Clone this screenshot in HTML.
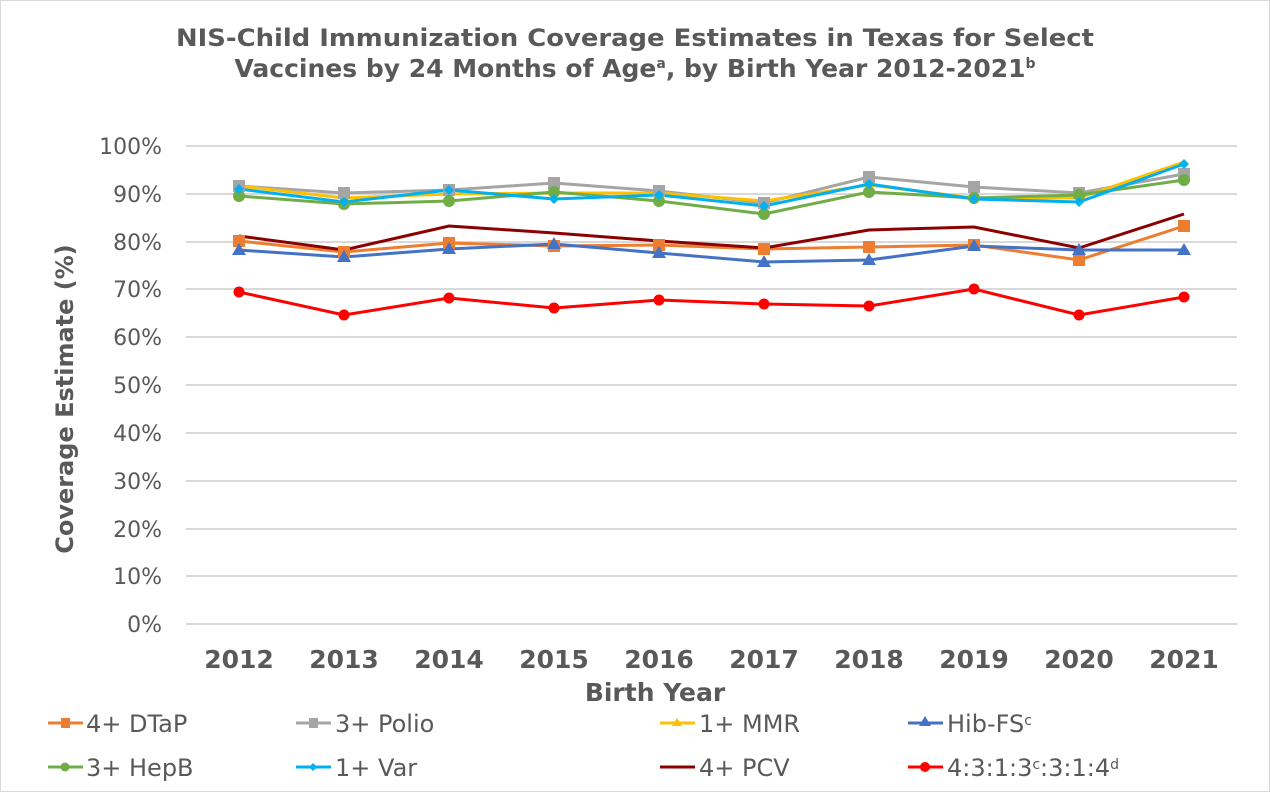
<!DOCTYPE html><html><head><style>body{margin:0;background:#fff}svg text{font-family:"DejaVu Sans",Verdana,sans-serif;fill:#595959}</style></head><body>
<svg width="1270" height="792" viewBox="0 0 1270 792">
<rect x="0.5" y="0.5" width="1269" height="791" fill="#fff" stroke="#d9d9d9"/>
<text x="635" y="46" text-anchor="middle" font-size="24" font-weight="bold" textLength="918" lengthAdjust="spacingAndGlyphs">NIS-Child Immunization Coverage Estimates in Texas for Select</text>
<text x="635" y="77" text-anchor="middle" font-size="25" font-weight="bold">Vaccines by 24 Months of Age<tspan font-size="14" dy="-9">a</tspan><tspan dy="9">, by Birth Year 2012-2021</tspan><tspan font-size="14" dy="-9">b</tspan></text>
<g stroke="#d9d9d9" stroke-width="2">
<line x1="186" x2="1237" y1="146" y2="146"/><line x1="186" x2="1237" y1="194" y2="194"/><line x1="186" x2="1237" y1="242" y2="242"/><line x1="186" x2="1237" y1="289" y2="289"/><line x1="186" x2="1237" y1="337" y2="337"/><line x1="186" x2="1237" y1="385" y2="385"/><line x1="186" x2="1237" y1="433" y2="433"/><line x1="186" x2="1237" y1="481" y2="481"/><line x1="186" x2="1237" y1="529" y2="529"/><line x1="186" x2="1237" y1="576" y2="576"/><line x1="186" x2="1237" y1="624" y2="624"/></g>
<g font-size="22" text-anchor="end">
<text x="162" y="154">100%</text><text x="162" y="202">90%</text><text x="162" y="250">80%</text><text x="162" y="297">70%</text><text x="162" y="345">60%</text><text x="162" y="393">50%</text><text x="162" y="441">40%</text><text x="162" y="489">30%</text><text x="162" y="537">20%</text><text x="162" y="584">10%</text><text x="162" y="632">0%</text></g>
<g font-size="25" font-weight="bold" text-anchor="middle">
<text x="239" y="668">2012</text><text x="344" y="668">2013</text><text x="449" y="668">2014</text><text x="554" y="668">2015</text><text x="659" y="668">2016</text><text x="764" y="668">2017</text><text x="869" y="668">2018</text><text x="974" y="668">2019</text><text x="1079" y="668">2020</text><text x="1184" y="668">2021</text></g>
<text x="655" y="701" text-anchor="middle" font-size="25" font-weight="bold">Birth Year</text>
<text transform="translate(73,399) rotate(-90)" text-anchor="middle" font-size="24" font-weight="bold">Coverage Estimate (%)</text>
<g fill="none" stroke-width="3">
<polyline stroke="#ED7D31" points="239,241 344,252 449,243 554,246 659,245 764,249 869,247 974,245 1079,260 1184,226"/>
<polyline stroke="#A5A5A5" points="239,186 344,193 449,190 554,183 659,191 764,203 869,177 974,187 1079,193 1184,174"/>
<polyline stroke="#FFC000" points="239,186 344,198 449,194 554,193 659,193 764,201 869,185 974,198 1079,198 1184,162"/>
<polyline stroke="#4472C4" points="239,250 344,257 449,249 554,244 659,253 764,262 869,260 974,246 1079,250 1184,250"/>
<polyline stroke="#70AD47" points="239,196 344,204 449,201 554,192 659,201 764,214 869,192 974,198 1079,195 1184,180"/>
<polyline stroke="#00B0F0" points="239,189 344,202 449,190 554,199 659,195 764,206 869,184 974,199 1079,202 1184,164"/>
<polyline stroke="#8B0000" points="239,236 344,250 449,226 554,233 659,241 764,248 869,230 974,227 1079,248 1184,214"/>
<polyline stroke="#FF0000" points="239,292 344,315 449,298 554,308 659,300 764,304 869,306 974,289 1079,315 1184,297"/>
</g>
<g fill="#ED7D31"><rect x="233" y="235" width="12" height="12"/><rect x="338" y="246" width="12" height="12"/><rect x="443" y="237" width="12" height="12"/><rect x="548" y="240" width="12" height="12"/><rect x="653" y="239" width="12" height="12"/><rect x="758" y="243" width="12" height="12"/><rect x="863" y="241" width="12" height="12"/><rect x="968" y="239" width="12" height="12"/><rect x="1073" y="254" width="12" height="12"/><rect x="1178" y="220" width="12" height="12"/></g>
<g fill="#A5A5A5"><rect x="233" y="180" width="12" height="12"/><rect x="338" y="187" width="12" height="12"/><rect x="443" y="184" width="12" height="12"/><rect x="548" y="177" width="12" height="12"/><rect x="653" y="185" width="12" height="12"/><rect x="758" y="197" width="12" height="12"/><rect x="863" y="171" width="12" height="12"/><rect x="968" y="181" width="12" height="12"/><rect x="1073" y="187" width="12" height="12"/><rect x="1178" y="168" width="12" height="12"/></g>
<g fill="#4472C4"><path d="M239,243l7,12h-14z"/><path d="M344,250l7,12h-14z"/><path d="M449,242l7,12h-14z"/><path d="M554,237l7,12h-14z"/><path d="M659,246l7,12h-14z"/><path d="M764,255l7,12h-14z"/><path d="M869,253l7,12h-14z"/><path d="M974,239l7,12h-14z"/><path d="M1079,243l7,12h-14z"/><path d="M1184,243l7,12h-14z"/></g>
<g fill="#70AD47"><circle cx="239" cy="196" r="6"/><circle cx="344" cy="204" r="6"/><circle cx="449" cy="201" r="6"/><circle cx="554" cy="192" r="6"/><circle cx="659" cy="201" r="6"/><circle cx="764" cy="214" r="6"/><circle cx="869" cy="192" r="6"/><circle cx="974" cy="198" r="6"/><circle cx="1079" cy="195" r="6"/><circle cx="1184" cy="180" r="6"/></g>
<g fill="#00B0F0"><path d="M239,184l5,5l-5,5l-5,-5z"/><path d="M344,197l5,5l-5,5l-5,-5z"/><path d="M449,185l5,5l-5,5l-5,-5z"/><path d="M554,194l5,5l-5,5l-5,-5z"/><path d="M659,190l5,5l-5,5l-5,-5z"/><path d="M764,201l5,5l-5,5l-5,-5z"/><path d="M869,179l5,5l-5,5l-5,-5z"/><path d="M974,194l5,5l-5,5l-5,-5z"/><path d="M1079,197l5,5l-5,5l-5,-5z"/><path d="M1184,159l5,5l-5,5l-5,-5z"/></g>
<g fill="#FF0000"><circle cx="239" cy="292" r="5.5"/><circle cx="344" cy="315" r="5.5"/><circle cx="449" cy="298" r="5.5"/><circle cx="554" cy="308" r="5.5"/><circle cx="659" cy="300" r="5.5"/><circle cx="764" cy="304" r="5.5"/><circle cx="869" cy="306" r="5.5"/><circle cx="974" cy="289" r="5.5"/><circle cx="1079" cy="315" r="5.5"/><circle cx="1184" cy="297" r="5.5"/></g>
<g font-size="24">
<line x1="48" x2="83" y1="723" y2="723" stroke="#ED7D31" stroke-width="3"/><rect x="61" y="718" width="9" height="10" fill="#ED7D31"/><text x="86" y="732">4+ DTaP</text>
<line x1="296" x2="331" y1="723" y2="723" stroke="#A5A5A5" stroke-width="3"/><rect x="309" y="718" width="9" height="10" fill="#A5A5A5"/><text x="335" y="732">3+ Polio</text>
<line x1="660" x2="695" y1="723" y2="723" stroke="#FFC000" stroke-width="3"/><path d="M677,718l5,8h-10z" fill="#FFC000"/><text x="699" y="732">1+ MMR</text>
<line x1="908" x2="943" y1="723" y2="723" stroke="#4472C4" stroke-width="3"/><path d="M925,716l6,10h-12z" fill="#4472C4"/><text x="947" y="732">Hib-FS<tspan font-size="14" dy="-7">c</tspan></text>
<line x1="48" x2="83" y1="767" y2="767" stroke="#70AD47" stroke-width="3"/><circle cx="65" cy="767" r="4.5" fill="#70AD47"/><text x="86" y="776">3+ HepB</text>
<line x1="296" x2="331" y1="767" y2="767" stroke="#00B0F0" stroke-width="3"/><path d="M313,763l4,4l-4,4l-4,-4z" fill="#00B0F0"/><text x="335" y="776">1+ Var</text>
<line x1="660" x2="695" y1="767" y2="767" stroke="#8B0000" stroke-width="3"/><text x="699" y="776">4+ PCV</text>
<line x1="908" x2="943" y1="767" y2="767" stroke="#FF0000" stroke-width="3"/><circle cx="925" cy="767" r="5" fill="#FF0000"/><text x="947" y="776">4:3:1:3<tspan font-size="14" dy="-7">c</tspan><tspan dy="7">:3:1:4</tspan><tspan font-size="14" dy="-7">d</tspan></text>
</g>
</svg></body></html>
